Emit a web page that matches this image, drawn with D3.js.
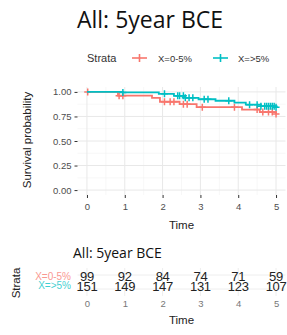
<!DOCTYPE html>
<html>
<head>
<meta charset="utf-8">
<script src="https://cdn.jsdelivr.net/npm/d3@7"></script>
<style>
  body { margin: 0; background: #fff; }
  svg { display: block; }
  text { font-family: "Liberation Sans", Arial, sans-serif; }
</style>
</head>
<body>
<svg id="chart" width="287" height="335"></svg>
<script>
// strata
const strata = ["X=0-5%", "X=>5%"];
const colors = ["#F8766D", "#00BFC4"];

// KM step estimates
const lowTimes = [0, 0.82, 1.72, 1.93, 2.45, 2.9, 4.1, 4.57, 5];
const lowSurv = [1, 0.962, 0.94, 0.9, 0.875, 0.845, 0.82, 0.795, 0.775];
const lowCensor = [0.02, 0.85, 0.95, 2.05, 2.2, 2.3, 2.55, 2.65, 3.05, 3.9, 4.5, 4.65, 4.8, 4.9, 5.0];

const highTimes = [0, 0.95, 1.9, 2.3, 2.6, 2.95, 3.4, 3.9, 4.2, 4.6, 5];
const highSurv = [1, 0.995, 0.98, 0.96, 0.94, 0.925, 0.91, 0.89, 0.87, 0.855, 0.845];
const highCensor = [0.95, 2.05, 2.4, 2.45, 2.55, 2.6, 2.7, 2.8, 3.1, 3.2, 3.75, 4.3, 4.5, 4.6, 4.7, 4.75, 4.8, 4.85, 4.9, 4.95, 5.0];

// numbers at risk
const riskTimes = [0, 1, 2, 3, 4, 5];
const riskLow = [99, 92, 84, 74, 71, 59];
const riskHigh = [151, 149, 147, 131, 123, 107];

const yTicks = [0, 0.25, 0.5, 0.75, 1];

const svg = d3.select("#chart");

const x = d3.scaleLinear().domain([-0.25, 5.25]).range([77.5, 285.5]);
const y = d3.scaleLinear().domain([-0.05, 1.05]).range([195, 87]);

// title
svg.append("text")
  .attr("x", 150).attr("y", 28)
  .attr("text-anchor", "middle")
  .style("font-family", "'Open Sans', 'Noto Sans', sans-serif")
  .style("font-size", "23px")
  .attr("fill", "#111")
  .text("All: 5year BCE");

// legend
const leg = svg.append("g").attr("transform", "translate(0,58)");
leg.append("text").attr("x", 87).attr("y", 4)
  .style("font-size", "11px").attr("fill", "#333").text("Strata");
const legX = [[132, 158], [213, 238]];
strata.forEach((s, i) => {
  const [sx, tx] = legX[i];
  leg.append("line").attr("x1", sx).attr("x2", sx + 15).attr("y1", 0).attr("y2", 0)
    .attr("stroke", colors[i]).attr("stroke-width", 1.6);
  leg.append("path").attr("d", `M${sx + 7.5},-4V4`).attr("stroke", colors[i]).attr("stroke-width", 1.6);
  leg.append("text").attr("x", tx).attr("y", 3.5)
    .style("font-size", "9.5px").attr("fill", "#333").text(s);
});

// grid
const grid = svg.append("g");
const minorX = d3.range(-0.5, 5.6, 1).filter(v => v > -0.25 && v < 5.25);
const minorY = d3.range(0.125, 1, 0.25);
grid.selectAll(".mx").data(minorX).join("line")
  .attr("x1", d => x(d)).attr("x2", d => x(d)).attr("y1", 87).attr("y2", 195)
  .attr("stroke", "#f2f2f2").attr("stroke-width", 0.6);
grid.selectAll(".my").data(minorY).join("line")
  .attr("y1", d => y(d)).attr("y2", d => y(d)).attr("x1", 77.5).attr("x2", 285.5)
  .attr("stroke", "#f2f2f2").attr("stroke-width", 0.6);
grid.selectAll(".gx").data(riskTimes).join("line")
  .attr("x1", d => x(d)).attr("x2", d => x(d)).attr("y1", 87).attr("y2", 195)
  .attr("stroke", "#e8e8e8").attr("stroke-width", 1);
grid.selectAll(".gy").data(yTicks).join("line")
  .attr("y1", d => y(d)).attr("y2", d => y(d)).attr("x1", 77.5).attr("x2", 285.5)
  .attr("stroke", "#e8e8e8").attr("stroke-width", 1);

// axes
const yAxis = svg.append("g").attr("transform", "translate(77.5,0)")
  .call(d3.axisLeft(y).tickValues(yTicks).tickFormat(d3.format(".2f")).tickSize(3).tickPadding(3));
const xAxis = svg.append("g").attr("transform", "translate(0,195)")
  .call(d3.axisBottom(x).tickValues(riskTimes).tickFormat(d3.format("d")).tickSize(3).tickPadding(5));
[yAxis, xAxis].forEach(a => {
  a.select(".domain").remove();
  a.selectAll(".tick line").attr("stroke", "#333");
  a.selectAll("text").attr("fill", "#4d4d4d").style("font-size", "9.5px");
});

svg.append("text")
  .attr("transform", "translate(31,140) rotate(-90)")
  .attr("text-anchor", "middle")
  .style("font-size", "11.5px").attr("fill", "#222")
  .text("Survival probability");
svg.append("text").attr("x", 181.5).attr("y", 229)
  .attr("text-anchor", "middle").style("font-size", "11.5px").attr("fill", "#222")
  .text("Time");

// curves
const line = d3.line().x(d => x(d[0])).y(d => y(d[1])).curve(d3.curveStepAfter);
const curves = [
  { t: lowTimes, s: lowSurv, c: lowCensor },
  { t: highTimes, s: highSurv, c: highCensor }
];
const survAt = (cur, t) => cur.s[d3.bisectRight(cur.t, t) - 1];
curves.forEach((cur, i) => {
  const pts = cur.t.map((t, j) => [t, cur.s[j]]);
  svg.append("path").datum(pts).attr("d", line)
    .attr("fill", "none").attr("stroke", colors[i]).attr("stroke-width", 1.8);
  svg.append("g").selectAll("path").data(cur.c).join("path")
    .attr("d", d => `M${x(d) - 3.5},${y(survAt(cur, d))}h7M${x(d)},${y(survAt(cur, d)) - 3.5}v7`)
    .attr("stroke", colors[i]).attr("stroke-width", 1.5);
});

// risk table
svg.append("text").attr("x", 73).attr("y", 258)
  .style("font-family", "'Open Sans', 'Noto Sans', sans-serif")
  .style("font-size", "14px").attr("fill", "#111")
  .text("All: 5year BCE");

const rowY = d3.scaleBand().domain(strata).range([268, 296]);
const rg = svg.append("g");
rg.selectAll(".rgx").data(riskTimes).join("line")
  .attr("x1", d => x(d)).attr("x2", d => x(d)).attr("y1", 268).attr("y2", 296)
  .attr("stroke", "#eeeeee");
rg.selectAll(".rgy").data(strata).join("line")
  .attr("y1", d => rowY(d) + rowY.bandwidth() / 2).attr("y2", d => rowY(d) + rowY.bandwidth() / 2)
  .attr("x1", 77.5).attr("x2", 285.5).attr("stroke", "#eeeeee");

const rows = [riskLow, riskHigh];
strata.forEach((s, i) => {
  const base = [281, 290.5][i];
  rg.append("text").attr("x", 71).attr("y", base - 1.5).attr("text-anchor", "end")
    .style("font-size", "10px").attr("fill", colors[i]).attr("opacity", 0.75).text(s);
  rg.selectAll(".n" + i).data(rows[i]).join("text")
    .attr("x", (d, j) => x(riskTimes[j])).attr("y", base)
    .attr("text-anchor", "middle")
    .style("font-size", "13px").attr("fill", "#222")
    .style("letter-spacing", "-0.3px")
    .text(d => d);
});

const rAxis = svg.append("g").attr("transform", "translate(0,296)")
  .call(d3.axisBottom(x).tickValues(riskTimes).tickFormat(d3.format("d")).tickSize(0).tickPadding(4));
rAxis.select(".domain").remove();
rAxis.selectAll("text").attr("fill", "#777").style("font-size", "9.5px");

svg.append("text").attr("x", 181.5).attr("y", 324)
  .attr("text-anchor", "middle").style("font-size", "11.5px").attr("fill", "#222")
  .text("Time");
svg.append("text")
  .attr("transform", "translate(20,283) rotate(-90)")
  .attr("text-anchor", "middle")
  .style("font-size", "11.5px").attr("fill", "#222")
  .text("Strata");
</script>
</body>
</html>
